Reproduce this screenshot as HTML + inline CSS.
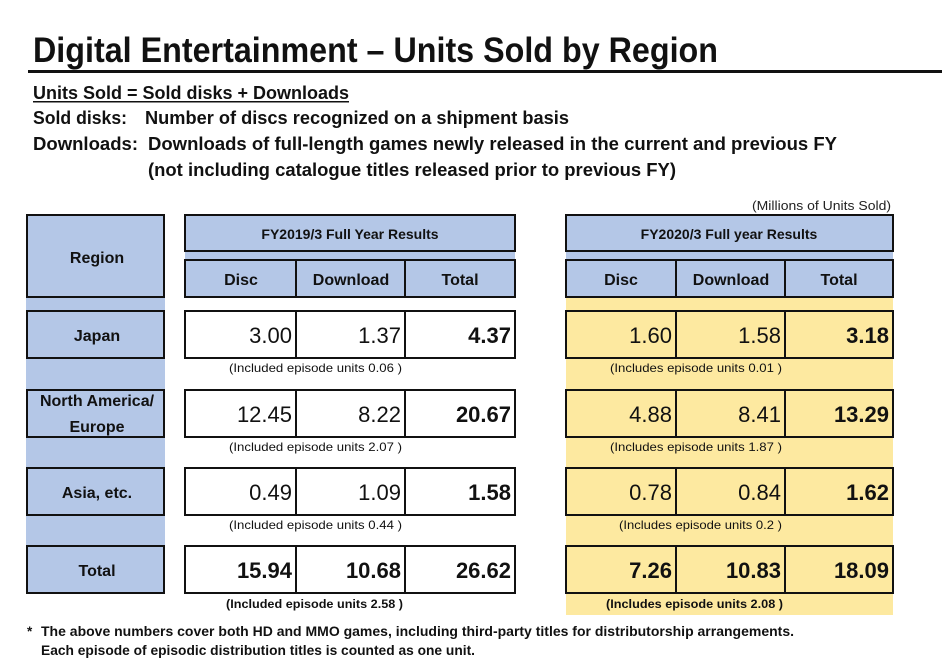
<!DOCTYPE html>
<html><head><meta charset="utf-8"><style>
html,body{margin:0;padding:0;background:#fff;}
svg{display:block;font-family:"Liberation Sans",sans-serif;}
</style></head><body>
<svg width="952" height="664" viewBox="0 0 952 664" xmlns="http://www.w3.org/2000/svg">
<rect width="952" height="664" fill="#fff"/>
<!-- Title -->
<text x="33" y="62" font-size="35" font-weight="bold" fill="#111" textLength="685" lengthAdjust="spacingAndGlyphs">Digital Entertainment – Units Sold by Region</text>
<rect x="28" y="70" width="914" height="3" fill="#111"/>
<text x="33" y="99" font-size="18.5" font-weight="bold" fill="#111" textLength="316" lengthAdjust="spacingAndGlyphs">Units Sold = Sold disks + Downloads</text>
<rect x="33" y="101" width="316" height="1.5" fill="#111"/>
<text x="33" y="124" font-size="18.5" font-weight="bold" fill="#111" textLength="94" lengthAdjust="spacingAndGlyphs">Sold disks:</text>
<text x="145" y="124" font-size="18.5" font-weight="bold" fill="#111" textLength="424" lengthAdjust="spacingAndGlyphs">Number of discs recognized on a shipment basis</text>
<text x="33" y="150" font-size="18.5" font-weight="bold" fill="#111" textLength="105" lengthAdjust="spacingAndGlyphs">Downloads:</text>
<text x="148" y="150" font-size="18.5" font-weight="bold" fill="#111" textLength="689" lengthAdjust="spacingAndGlyphs">Downloads of full-length games newly released in the current and previous FY</text>
<text x="148" y="176" font-size="18.5" font-weight="bold" fill="#111" textLength="528" lengthAdjust="spacingAndGlyphs">(not including catalogue titles released prior to previous FY)</text>
<text x="891" y="210" font-size="12.5" fill="#222" text-anchor="end" textLength="139" lengthAdjust="spacingAndGlyphs">(Millions of Units Sold)</text>

<!-- Region column -->
<rect x="26" y="214" width="139" height="380" fill="#b4c7e7"/>
<g fill="#b4c7e7" stroke="#111" stroke-width="2">
<rect x="27" y="215" width="137" height="82"/>
<rect x="27" y="311" width="137" height="47"/>
<rect x="27" y="390" width="137" height="47"/>
<rect x="27" y="468" width="137" height="47"/>
<rect x="27" y="546" width="137" height="47"/>
</g>
<g font-size="16" font-weight="bold" fill="#111" text-anchor="middle">
<text x="97" y="263">Region</text>
<text x="97" y="341">Japan</text>
<text x="97" y="406">North America/</text>
<text x="97" y="432">Europe</text>
<text x="97" y="498">Asia, etc.</text>
<text x="97" y="576">Total</text>
</g>

<!-- FY2020 yellow backing -->
<rect x="566" y="297" width="327" height="318" fill="#fde9a0"/>

<!-- header blocks -->
<g>
<rect x="185" y="215" width="330" height="82" fill="#b4c7e7"/>
<rect x="566" y="215" width="327" height="82" fill="#b4c7e7"/>
<g fill="none" stroke="#111" stroke-width="2">
<rect x="185" y="215" width="330" height="36"/>
<rect x="185" y="260" width="330" height="37"/>
<line x1="296" y1="260" x2="296" y2="297"/><line x1="405" y1="260" x2="405" y2="297"/>
<rect x="566" y="215" width="327" height="36"/>
<rect x="566" y="260" width="327" height="37"/>
<line x1="676" y1="260" x2="676" y2="297"/><line x1="785" y1="260" x2="785" y2="297"/>
</g>
<g font-weight="bold" fill="#111" text-anchor="middle">
<text x="350" y="239" font-size="14">FY2019/3 Full Year Results</text>
<text x="729" y="239" font-size="14">FY2020/3 Full year Results</text>
<g font-size="16">
<text x="241" y="285">Disc</text><text x="351" y="285">Download</text><text x="460" y="285">Total</text>
<text x="621" y="285">Disc</text><text x="731" y="285">Download</text><text x="839" y="285">Total</text>
</g>
</g>
</g>

<!-- data rows -->
<g stroke="#111" stroke-width="2">
<g fill="#fff">
<rect x="185" y="311" width="330" height="47"/><rect x="185" y="390" width="330" height="47"/>
<rect x="185" y="468" width="330" height="47"/><rect x="185" y="546" width="330" height="47"/>
</g>
<g fill="#fde9a0">
<rect x="566" y="311" width="327" height="47"/><rect x="566" y="390" width="327" height="47"/>
<rect x="566" y="468" width="327" height="47"/><rect x="566" y="546" width="327" height="47"/>
</g>
<g>
<line x1="296" y1="311" x2="296" y2="358"/><line x1="405" y1="311" x2="405" y2="358"/>
<line x1="296" y1="390" x2="296" y2="437"/><line x1="405" y1="390" x2="405" y2="437"/>
<line x1="296" y1="468" x2="296" y2="515"/><line x1="405" y1="468" x2="405" y2="515"/>
<line x1="296" y1="546" x2="296" y2="593"/><line x1="405" y1="546" x2="405" y2="593"/>
<line x1="676" y1="311" x2="676" y2="358"/><line x1="785" y1="311" x2="785" y2="358"/>
<line x1="676" y1="390" x2="676" y2="437"/><line x1="785" y1="390" x2="785" y2="437"/>
<line x1="676" y1="468" x2="676" y2="515"/><line x1="785" y1="468" x2="785" y2="515"/>
<line x1="676" y1="546" x2="676" y2="593"/><line x1="785" y1="546" x2="785" y2="593"/>
</g>
</g>
<g font-size="22" fill="#111" text-anchor="end">
<text x="292" y="343">3.00</text><text x="401" y="343">1.37</text><text x="511" y="343" font-weight="bold">4.37</text>
<text x="292" y="422">12.45</text><text x="401" y="422">8.22</text><text x="511" y="422" font-weight="bold">20.67</text>
<text x="292" y="500">0.49</text><text x="401" y="500">1.09</text><text x="511" y="500" font-weight="bold">1.58</text>
<g font-weight="bold"><text x="292" y="578">15.94</text><text x="401" y="578">10.68</text><text x="511" y="578">26.62</text></g>
<text x="672" y="343">1.60</text><text x="781" y="343">1.58</text><text x="889" y="343" font-weight="bold">3.18</text>
<text x="672" y="422">4.88</text><text x="781" y="422">8.41</text><text x="889" y="422" font-weight="bold">13.29</text>
<text x="672" y="500">0.78</text><text x="781" y="500">0.84</text><text x="889" y="500" font-weight="bold">1.62</text>
<g font-weight="bold"><text x="672" y="578">7.26</text><text x="781" y="578">10.83</text><text x="889" y="578">18.09</text></g>
</g>
<g font-size="12" fill="#111">
<text x="229" y="372" textLength="173" lengthAdjust="spacingAndGlyphs">(Included episode units 0.06 )</text>
<text x="229" y="451" textLength="173" lengthAdjust="spacingAndGlyphs">(Included episode units 2.07 )</text>
<text x="229" y="529" textLength="173" lengthAdjust="spacingAndGlyphs">(Included episode units 0.44 )</text>
<text x="226" y="608" font-weight="bold" textLength="177" lengthAdjust="spacingAndGlyphs">(Included episode units 2.58 )</text>
<text x="610" y="372" textLength="172" lengthAdjust="spacingAndGlyphs">(Includes episode units 0.01 )</text>
<text x="610" y="451" textLength="172" lengthAdjust="spacingAndGlyphs">(Includes episode units 1.87 )</text>
<text x="619" y="529" textLength="163" lengthAdjust="spacingAndGlyphs">(Includes episode units 0.2 )</text>
<text x="606" y="608" font-weight="bold" textLength="177" lengthAdjust="spacingAndGlyphs">(Includes episode units 2.08 )</text>
</g>
<g font-size="13.5" font-weight="bold" fill="#111">
<text x="27" y="636">*</text>
<text x="41" y="636" textLength="753" lengthAdjust="spacingAndGlyphs">The above numbers cover both HD and MMO games, including third-party titles for distributorship arrangements.</text>
<text x="41" y="655" textLength="434" lengthAdjust="spacingAndGlyphs">Each episode of episodic distribution titles is counted as one unit.</text>
</g>
</svg>
</body></html>
